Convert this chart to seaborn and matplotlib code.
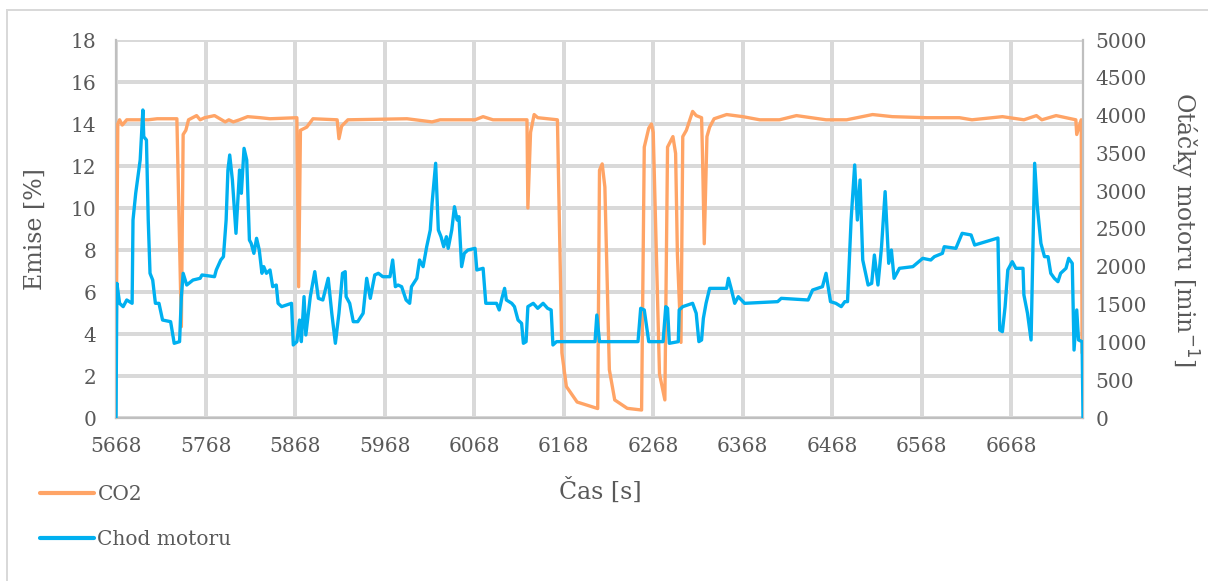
import numpy as np
import pandas as pd
import matplotlib
matplotlib.use("Agg")
import matplotlib.pyplot as plt
from matplotlib.lines import Line2D
import seaborn as sns

# ---------------- data ----------------
co2_time = [5668, 5670, 5672, 5675, 5680, 5704, 5714, 5736, 5741, 5743, 5746, 5749, 5758, 5762,
            5767, 5778, 5790, 5794, 5799, 5806, 5815, 5829, 5840, 5870, 5872, 5874, 5881, 5888,
            5915, 5917, 5920, 5927, 5993, 6021, 6030, 6069, 6078, 6089, 6127, 6128, 6131, 6135,
            6139, 6161, 6166, 6171, 6183, 6206, 6208, 6211, 6214, 6219, 6225, 6239, 6255, 6258,
            6263, 6266, 6268, 6275, 6281, 6284, 6290, 6293, 6295, 6299, 6301, 6305, 6312, 6316,
            6322, 6323, 6325, 6328, 6331, 6336, 6350, 6368, 6387, 6409, 6428, 6461, 6484, 6513,
            6535, 6573, 6610, 6624, 6658, 6682, 6696, 6702, 6718, 6729, 6740, 6741, 6746, 6747]
co2_values = [2.3, 14.0, 14.2, 13.95, 14.2, 14.2, 14.25, 14.25, 4.35, 13.5, 13.7, 14.2, 14.4, 14.2,
              14.3, 14.4, 14.1, 14.2, 14.1, 14.2, 14.35, 14.3, 14.25, 14.3, 6.25, 13.7, 13.85, 14.25,
              14.2, 13.3, 13.9, 14.2, 14.25, 14.1, 14.2, 14.2, 14.35, 14.2, 14.2, 10.0, 13.6, 14.45,
              14.3, 14.2, 3.1, 1.5, 0.76, 0.45, 11.8, 12.1, 11.0, 2.3, 0.86, 0.46, 0.38, 12.9,
              13.8, 14.0, 13.6, 2.1, 0.86, 12.9, 13.4, 12.6, 7.8, 3.6, 13.4, 13.7, 14.6, 14.4,
              14.3, 12.6, 8.3, 13.4, 13.85, 14.25, 14.45, 14.35, 14.2, 14.2, 14.4, 14.2, 14.2, 14.45,
              14.35, 14.3, 14.3, 14.2, 14.35, 14.2, 14.4, 14.2, 14.4, 14.3, 14.2, 13.5, 14.2, 3.1]

rpm_time = [5668, 5669, 5672, 5676, 5680, 5686, 5687, 5690, 5695, 5698, 5699, 5702, 5704, 5706,
            5709, 5712, 5716, 5720, 5729, 5733, 5739, 5741, 5743, 5747, 5754, 5762, 5764, 5778,
            5780, 5785, 5788, 5791, 5793, 5795, 5798, 5802, 5806, 5808, 5811, 5814, 5817, 5819,
            5822, 5825, 5828, 5831, 5833, 5836, 5840, 5843, 5847, 5849, 5853, 5864, 5866, 5870,
            5873, 5875, 5878, 5880, 5885, 5890, 5894, 5899, 5905, 5909, 5913, 5917, 5921, 5924,
            5925, 5929, 5933, 5938, 5944, 5948, 5952, 5957, 5961, 5966, 5974, 5977, 5980, 5983,
            5987, 5992, 5996, 5998, 6004, 6007, 6011, 6015, 6019, 6021, 6025, 6028, 6031, 6034,
            6037, 6039, 6043, 6046, 6049, 6051, 6054, 6057, 6061, 6069, 6071, 6078, 6081, 6093,
            6096, 6099, 6102, 6104, 6110, 6113, 6117, 6121, 6123, 6126, 6128, 6134, 6139, 6145,
            6150, 6154, 6156, 6160, 6203, 6205, 6208, 6251, 6254, 6258, 6263, 6279, 6282, 6284,
            6286, 6296, 6297, 6301, 6312, 6316, 6319, 6322, 6324, 6327, 6331, 6350, 6352, 6355,
            6359, 6363, 6370, 6407, 6411, 6441, 6446, 6457, 6461, 6466, 6472, 6478, 6482, 6485,
            6489, 6493, 6496, 6499, 6502, 6508, 6512, 6515, 6519, 6523, 6527, 6531, 6534, 6537,
            6543, 6558, 6569, 6578, 6582, 6591, 6593, 6606, 6613, 6623, 6627, 6653, 6655, 6658,
            6661, 6664, 6669, 6673, 6681, 6682, 6686, 6690, 6694, 6697, 6701, 6705, 6709, 6712,
            6716, 6720, 6723, 6729, 6732, 6736, 6738, 6741, 6743, 6747, 6748]
rpm_values = [0, 1781, 1517, 1473, 1561, 1517, 2619, 2972, 3413, 4074, 3721, 3677, 2619, 1914,
              1825, 1517, 1517, 1296, 1274, 988, 1010, 1605, 1914, 1759, 1825, 1848, 1892, 1869,
              1958, 2090, 2134, 2619, 3280, 3479, 3148, 2443, 3280, 2972, 3567, 3413, 2354, 2310,
              2178, 2377, 2222, 1914, 2002, 1914, 1958, 1737, 1759, 1517, 1473, 1517, 966, 1010,
              1296, 1010, 1605, 1098, 1605, 1936, 1583, 1561, 1848, 1385, 988, 1385, 1914, 1936,
              1605, 1517, 1274, 1274, 1385, 1848, 1583, 1892, 1914, 1869, 1869, 2090, 1737, 1759,
              1737, 1561, 1517, 1737, 1848, 2090, 2002, 2266, 2487, 2840, 3369, 2487, 2398, 2266,
              2398, 2244, 2487, 2795, 2619, 2663, 2002, 2178, 2222, 2244, 1958, 1980, 1517, 1517,
              1429, 1583, 1715, 1561, 1517, 1473, 1296, 1252, 988, 1010, 1473, 1517, 1451, 1517,
              1451, 1429, 966, 1010, 1010, 1362, 1010, 1010, 1451, 1429, 1010, 1010, 1473, 1451,
              988, 1010, 1429, 1473, 1517, 1385, 1010, 1032, 1318, 1517, 1715, 1715, 1848, 1715,
              1517, 1605, 1517, 1539, 1583, 1561, 1693, 1737, 1914, 1539, 1517, 1473, 1539, 1539,
              2619, 3347, 2619, 3148, 2090, 1759, 1781, 2156, 1759, 2266, 2994, 2046, 2222, 1848,
              1980, 2002, 2112, 2090, 2134, 2178, 2266, 2244, 2443, 2421, 2288, 2381, 1164, 1142,
              1473, 1958, 2068, 1980, 1980, 1627, 1385, 1032, 3369, 2795, 2310, 2134, 2134, 1914,
              1848, 1803, 1914, 1980, 2112, 2046, 899, 1429, 1032, 1010, 0]

x_ticks = [5668, 5768, 5868, 5968, 6068, 6168, 6268, 6368, 6468, 6568, 6668]
left_ticks = [0, 2, 4, 6, 8, 10, 12, 14, 16, 18]
right_ticks = [0, 500, 1000, 1500, 2000, 2500, 3000, 3500, 4000, 4500, 5000]

series_names = ["CO2", "Chod motoru"]
colors = ["#FFA466", "#00B0F0"]

co2_df = pd.DataFrame({"t": co2_time, "v": co2_values})
rpm_df = pd.DataFrame({"t": rpm_time, "v": rpm_values})

# ---------------- style ----------------
sns.set_theme(style="white")
plt.rcParams["font.family"] = ["DejaVu Serif"]
text_col = "#595959"
grid_col = "#D9D9D9"

W, H = 1208, 581
fig = plt.figure(figsize=(W / 100, H / 100), dpi=100)
ax = fig.add_axes([116 / W, 1 - 418 / H, (1083 - 116) / W, (418 - 40) / H])
ax2 = ax.twinx()
ax2.patch.set_visible(False)

# gridlines at the primary-axis tick positions
for xv in x_ticks:
    ax.axvline(xv, color=grid_col, linewidth=1.6, zorder=0.5, antialiased=False)
for yv in left_ticks:
    ax.axhline(yv, color=grid_col, linewidth=1.6, zorder=0.5, antialiased=False)

sns.lineplot(data=co2_df, x="t", y="v", ax=ax, color=colors[0], linewidth=2.4,
             estimator=None, sort=False, legend=False, zorder=3)
sns.lineplot(data=rpm_df, x="t", y="v", ax=ax2, color=colors[1], linewidth=2.4,
             estimator=None, sort=False, legend=False, zorder=3)

ax.set_xlim(5668, 6748)
ax.set_ylim(0, 18)
ax2.set_ylim(0, 5000)
ax.set_xticks(x_ticks)
ax.set_yticks(left_ticks)
ax2.set_yticks(right_ticks)
ax.set_xticklabels([str(v) for v in x_ticks])

for a in (ax, ax2):
    a.grid(False)
    for s in a.spines.values():
        s.set_visible(False)
    a.tick_params(length=0, colors=text_col, labelsize=14.5)
for s in ("left", "bottom"):
    ax.spines[s].set_visible(True)
    ax.spines[s].set_color("#BFBFBF")
    ax.spines[s].set_linewidth(1.6)
    ax.spines[s].set_zorder(2)
ax2.spines["right"].set_visible(True)
ax2.spines["right"].set_color("#BFBFBF")
ax2.spines["right"].set_linewidth(1.6)
ax.tick_params(axis="x", pad=14)
ax.tick_params(axis="y", pad=14)
ax2.tick_params(axis="y", pad=9)

ax.set_xlabel("Čas [s]", fontsize=17, color=text_col)
ax.set_ylabel("Emise [%]", fontsize=17, color=text_col)
ax2.set_ylabel("Otáčky motoru [min$^{-1}$]", fontsize=17, color=text_col, rotation=270)
ax.xaxis.set_label_coords(0.5005, -0.159)
ax.yaxis.set_label_coords(-0.072, 0.5)
ax2.yaxis.set_label_coords(1.121, 0.5)

handles = [Line2D([], [], color=c, linewidth=3) for c in colors]
fig.legend(handles, series_names, loc="upper left",
           bbox_to_anchor=(40 / W, 1 - 485 / H), frameon=False,
           fontsize=14.5, handlelength=2.7, handletextpad=0.15,
           labelspacing=1.3, borderpad=0, borderaxespad=0, labelcolor=text_col)

# chart frame (top and left edges visible)
fig.add_artist(Line2D([7 / W, 1], [1 - 10 / H, 1 - 10 / H], transform=fig.transFigure,
                      color=grid_col, linewidth=1.4, antialiased=False))
fig.add_artist(Line2D([7 / W, 7 / W], [0, 1 - 10 / H], transform=fig.transFigure,
                      color=grid_col, linewidth=1.4, antialiased=False))

fig.savefig("out.png", dpi=100, facecolor="white")
